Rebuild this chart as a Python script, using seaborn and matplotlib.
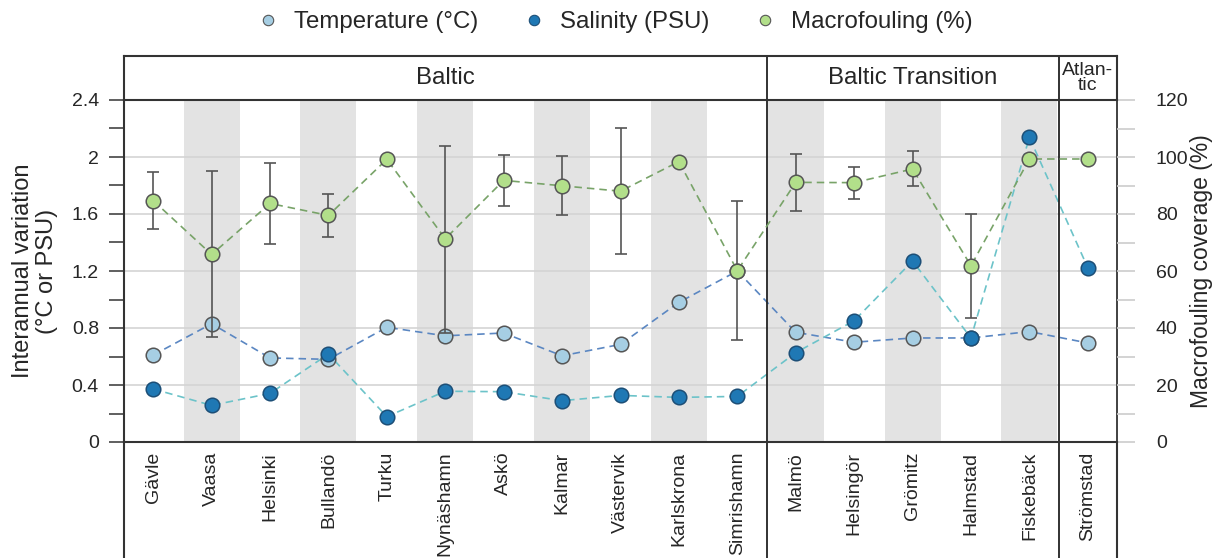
import numpy as np
import pandas as pd
import matplotlib
matplotlib.use("Agg")
import matplotlib.pyplot as plt
from matplotlib.lines import Line2D
import seaborn as sns

sites = ["Gävle", "Vaasa", "Helsinki", "Bullandö", "Turku", "Nynäshamn", "Askö",
         "Kalmar", "Västervik", "Karlskrona", "Simrishamn", "Malmö", "Helsingör",
         "Grömitz", "Halmstad", "Fiskebäck", "Strömstad"]
temperature = [0.61, 0.83, 0.59, 0.58, 0.805, 0.745, 0.765, 0.605, 0.685, 0.98, 1.20,
               0.77, 0.70, 0.73, 0.73, 0.775, 0.695]
salinity = [0.372, 0.257, 0.341, 0.617, 0.178, 0.356, 0.353, 0.29, 0.327, 0.313, 0.32,
            0.627, 0.851, 1.27, 0.73, 2.138, 1.223]
macrofouling = [84.7, 65.8, 83.7, 79.5, 99.2, 71.3, 91.8, 89.9, 88.0, 98.4, 60.1,
                91.1, 91.0, 95.8, 61.8, 99.3, 99.3]
macro_hi = [94.9, 95.1, 97.8, 87.1, np.nan, 104.0, 100.7, 100.2, 110.2, np.nan, 84.7,
            101.0, 96.5, 102.0, 80.1, np.nan, np.nan]
macro_lo = [74.6, 36.7, 69.6, 71.9, np.nan, 38.4, 82.7, 79.8, 65.8, np.nan, 35.8,
            81.0, 85.4, 89.8, 43.5, np.nan, np.nan]
groups = ["Baltic", "Baltic Transition", "Atlan-\ntic"]
group_sizes = [11, 5, 1]
shaded = ["Vaasa", "Bullandö", "Nynäshamn", "Kalmar", "Karlskrona", "Malmö", "Grömitz", "Fiskebäck"]

sns.set_style("white")
plt.rcParams['font.family'] = ['Liberation Sans', 'DejaVu Sans']

W, H = 1217, 558
fig = plt.figure(figsize=(W / 100, H / 100), dpi=100)

def fax(x0, y0, x1, y1):
    return fig.add_axes([x0 / W, 1 - y1 / H, (x1 - x0) / W, (y1 - y0) / H])

L, R = 124, 1117
ax = fax(L, 100, R, 442)
n = len(sites)
xpos = np.arange(n)
df = pd.DataFrame({"x": xpos, "site": sites, "temp": temperature, "sal": salinity,
                   "macro": macrofouling, "hi": macro_hi, "lo": macro_lo})

c_temp, c_sal, c_mac = "#a6cee3", "#1f78b4", "#b2df8a"
c_temp_line, c_sal_line, c_mac_line = "#5b87c2", "#6cc3c9", "#78a368"
edge = "#555555"

for i, s in enumerate(sites):
    if s in shaded:
        ax.axvspan(i - 0.48, i + 0.48, color="#e3e3e3", lw=0, zorder=0)

ax.set_xlim(-0.5, n - 0.5)
ax.set_ylim(0, 2.4)
ax.set_yticks(np.arange(0, 2.41, 0.4))
ax.set_yticks(np.arange(0.2, 2.4, 0.4), minor=True)
ax.set_yticklabels(["0", "0.4", "0.8", "1.2", "1.6", "2", "2.4"])
for yv in np.arange(0.4, 2.1, 0.4):
    ax.axhline(yv, color="#d4d4d4", lw=1.2, zorder=0.5)

ax2 = ax.twinx()
ax2.set_ylim(0, 120)
ax2.set_yticks(np.arange(0, 121, 20))
ax2.set_yticks(np.arange(10, 120, 20), minor=True)

# lines
sns.lineplot(data=df, x="x", y="temp", ax=ax, color=c_temp_line,
             linestyle=(0, (4.5, 3)), lw=1.2, zorder=2, legend=False)
sns.lineplot(data=df, x="x", y="sal", ax=ax, color=c_sal_line,
             linestyle=(0, (4.5, 3)), lw=1.2, zorder=2, legend=False)
sns.scatterplot(data=df, x="x", y="temp", ax=ax, color=c_temp, edgecolor=edge,
                linewidth=1.1, s=110, zorder=3, legend=False)
sns.scatterplot(data=df, x="x", y="sal", ax=ax, color=c_sal, edgecolor="#1d4f77",
                linewidth=1.1, s=110, zorder=4, legend=False)

sns.lineplot(data=df, x="x", y="macro", ax=ax2, color=c_mac_line,
             linestyle=(0, (4.5, 3)), lw=1.2, zorder=2, legend=False)
ok = ~df["hi"].isna()
ax2.errorbar(df["x"][ok], df["macro"][ok],
             yerr=[df["macro"][ok] - df["lo"][ok], df["hi"][ok] - df["macro"][ok]],
             fmt="none", ecolor="#555555", elinewidth=1.2, capsize=4.5, capthick=1.2, zorder=3)
sns.scatterplot(data=df, x="x", y="macro", ax=ax2, color=c_mac, edgecolor=edge,
                linewidth=1.1, s=110, zorder=4, legend=False)

ax.set_xlabel("")
ax.set_ylabel("Interannual variation\n(°C or PSU)", fontsize=17, labelpad=10, linespacing=1.1)
ax2.set_ylabel("Macrofouling coverage (%)", fontsize=16.5, labelpad=1)
ax2.set_xlabel("")
ax.set_xticks([])

ax.tick_params(axis="y", which="both", direction="out", length=11, width=1.2,
               color="#444444", labelsize=14, pad=7, left=True)
ax2.tick_params(axis="y", which="both", direction="out", length=13, width=1.2,
                color="#cccccc", labelsize=14, pad=15, right=True)
for a in (ax, ax2):
    for sp in a.spines.values():
        sp.set_visible(False)
ax.spines["left"].set_visible(True)
ax.spines["left"].set_color("#333333")
ax.spines["left"].set_linewidth(1.5)
ax.spines["right"].set_visible(True)
ax.spines["right"].set_color("#333333")
ax.spines["right"].set_linewidth(1.3)

# group dividers
bounds = np.cumsum(group_sizes)[:-1] - 0.5
for b in bounds:
    ax.axvline(b, color="#222222", lw=1.3, zorder=5)

# header box
hx = fax(L, 56, R, 100)
hx.set_xlim(-0.5, n - 0.5)
hx.set_ylim(0, 1)
hx.set_xticks([]); hx.set_yticks([])
for sp in hx.spines.values():
    sp.set_color("#333333"); sp.set_linewidth(1.5)
start = -0.5
for g, sz in zip(groups, group_sizes):
    mid = start + sz / 2
    fs = 17.3 if "\n" not in g else 14
    hx.text(mid, 0.5, g, ha="center", va="center", fontsize=fs, linespacing=0.9)
    start += sz
for b in bounds:
    hx.axvline(b, color="#222222", lw=1.3)

# label box
lx = fax(L, 442, R, H)
lx.set_xlim(-0.5, n - 0.5)
lx.set_ylim(0, 1)
lx.set_xticks([]); lx.set_yticks([])
for sp in lx.spines.values():
    sp.set_color("#333333"); sp.set_linewidth(1.5)
lx.spines["bottom"].set_visible(False)
for b in bounds:
    lx.axvline(b, color="#222222", lw=1.3)
for i, s in enumerate(sites):
    lx.text(i, 0.915, s, rotation=90, ha="center", va="top", fontsize=14)

# legend
handles = [Line2D([], [], marker="o", ls="", markersize=7.5, markerfacecolor=c,
                  markeredgecolor=ec, markeredgewidth=0.8)
           for c, ec in [(c_temp, edge), (c_sal, "#1d4f77"), (c_mac, edge)]]
fig.legend(handles, ["Temperature (°C)", "Salinity (PSU)", "Macrofouling (%)"],
           loc="center", bbox_to_anchor=(0.5, 1 - 22 / H), ncol=3, frameon=False,
           fontsize=17.3, handletextpad=0.1, columnspacing=1.3)

fig.savefig("out.png", dpi=100)
